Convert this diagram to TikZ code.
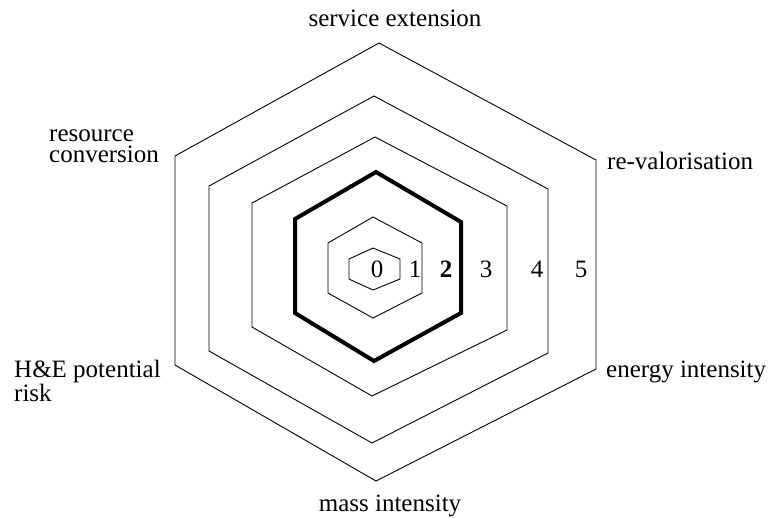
\documentclass[tikz,border=0pt]{standalone}
\usepackage{fontspec}
\setmainfont{Liberation Serif}
\begin{document}
\begin{tikzpicture}[x=1pt,y=-1pt,
  ring/.style={draw=black,line width=0.9pt,line join=miter},
  boldring/.style={draw=black,line width=4pt,line join=miter},
  lbl/.style={inner sep=0pt,font=\fontsize{25}{21}\selectfont},
  num/.style={inner sep=0pt,anchor=base,font=\fontsize{25}{21}\selectfont}]
\useasboundingbox (0,0) rectangle (768,517);
% level 5
\draw[ring] (379,43) -- (596,160) -- (596,369) -- (376,481) -- (175,365) -- (175,156) -- cycle;
% level 4
\draw[ring] (374,96) -- (548,189) -- (548,353) -- (372,443) -- (209,351) -- (209,186) -- cycle;
% level 3
\draw[ring] (375,137) -- (507,206) -- (507,330) -- (372,396) -- (252,327) -- (252,203) -- cycle;
% level 2 (bold)
\draw[boldring] (376,172) -- (461,222) -- (461,313) -- (374,361) -- (295,313) -- (295,219) -- cycle;
% level 1
\draw[ring] (373,217) -- (422,243) -- (422,293) -- (373,318) -- (328,293) -- (328,243) -- cycle;
% level 0
\draw[ring] (373,248) -- (400,259) -- (400,279) -- (373,290) -- (349,279) -- (349,259) -- cycle;
% level numbers
\node[num] (n0) at (377,277) {0};
\node[num] (n1) at (415,277) {1};
\node[num] (n2) at (446,277) {\bfseries 2};
\node[num] (n3) at (486,277) {3};
\node[num] (n4) at (537,277) {4};
\node[num] (n5) at (581,277) {5};
% axis labels
\node[lbl,anchor=base] (se) at (395,26) {service extension};
\node[lbl,anchor=base west] (rv) at (607,169) {re-valorisation};
\node[lbl,anchor=base west] (ei) at (606,377) {energy intensity};
\node[lbl,anchor=base] (mi) at (390,511) {mass intensity};
\node[lbl,anchor=base west,align=left] (rc) at (49,162) {resource\\conversion};
\node[lbl,anchor=base west,align=left] (he) at (14,401) {H\&E potential\\risk};
\end{tikzpicture}
\end{document}
